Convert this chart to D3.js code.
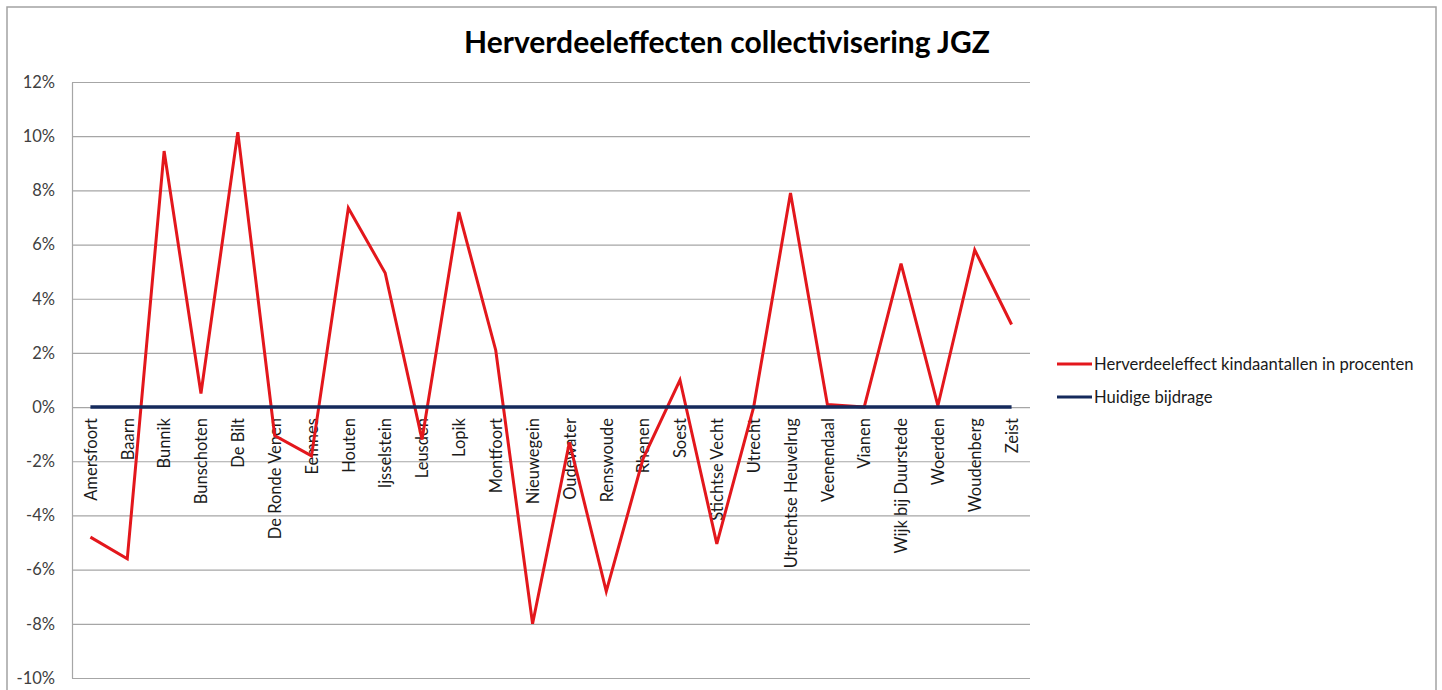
<!DOCTYPE html>
<html>
<head>
<meta charset="utf-8">
<script src="https://cdn.jsdelivr.net/npm/d3@7"></script>
<style>
  body { margin: 0; background: #fff; }
  svg { display: block; font-family: "Lato", "Open Sans", sans-serif; }
</style>
</head>
<body>
<div id="chart"></div>
<script>
let width = 1442
let height = 690

// -- data
let gemeenten = ["Amersfoort", "Baarn", "Bunnik", "Bunschoten", "De Bilt", "De Ronde Venen",
  "Eemnes", "Houten", "Ijsselstein", "Leusden", "Lopik", "Montfoort", "Nieuwegein",
  "Oudewater", "Renswoude", "Rhenen", "Soest", "Stichtse Vecht", "Utrecht",
  "Utrechtse Heuvelrug", "Veenendaal", "Vianen", "Wijk bij Duurstede", "Woerden",
  "Woudenberg", "Zeist"]
let herverdeelEffect = [-4.8, -5.6, 9.45, 0.5, 10.15, -1.05, -1.8, 7.35, 4.95, -1.2, 7.2, 2.1, -8.0,
  -1.3, -6.8, -1.9, 1.0, -5.05, 0.0, 7.9, 0.1, 0.0, 5.3, 0.05, 5.8, 3.05]
let huidigeBijdrage = [0, 0, 0, 0, 0, 0, 0, 0, 0, 0, 0, 0, 0, 0, 0, 0, 0, 0, 0, 0, 0, 0, 0, 0, 0, 0]
let yTicks = [12, 10, 8, 6, 4, 2, 0, -2, -4, -6, -8, -10]
let seriesNames = ["Herverdeeleffect kindaantallen in procenten", "Huidige bijdrage"]
let seriesColors = ["#e3171c", "#152a5c"]

let plot = { left: 72, right: 1030, top: 82, bottom: 678 }

let svg = d3.select("#chart").append("svg")
  .attr("width", width)
  .attr("height", height)

// outer chart frame
svg.append("rect")
  .attr("x", 7).attr("y", 7)
  .attr("width", 1429).attr("height", 720)
  .attr("fill", "#fff")
  .attr("stroke", "#a3a3a3")
  .attr("stroke-width", 1.5)

svg.append("text")
  .attr("x", 727).attr("y", 53)
  .attr("text-anchor", "middle")
  .style("font-size", "30px")
  .style("font-weight", "bold")
  .attr("fill", "#000")
  .text("Herverdeeleffecten collectivisering JGZ")

let xScale = d3.scalePoint()
  .domain(gemeenten)
  .range([plot.left, plot.right])
  .padding(0.5)

let yScale = d3.scaleLinear()
  .domain([-10, 12])
  .range([plot.bottom, plot.top])

// -- Y axis + gridlines
let yAxis = d3.axisLeft(yScale)
  .tickValues(yTicks)
  .tickSize(-(plot.right - plot.left))
  .tickSizeOuter(0)
  .tickPadding(17)
  .tickFormat(d => d + "%")

let yG = svg.append("g")
  .attr("transform", `translate(${plot.left}, 0)`)
  .call(yAxis)
yG.select(".domain").attr("stroke", "#a6a6a6").attr("stroke-width", 1.2)
yG.selectAll(".tick line").attr("stroke", "#a6a6a6").attr("stroke-width", 1.2)
yG.selectAll(".tick text")
  .style("font-size", "16.5px")
  .style("font-family", "Lato, sans-serif")
  .attr("fill", "#404040")

// -- X axis labels (rotated, hanging below the 0% line)
let xAxis = d3.axisBottom(xScale).tickSize(0)
let xG = svg.append("g")
  .attr("transform", `translate(0, ${yScale(0)})`)
  .call(xAxis)
xG.select(".domain").remove()
xG.selectAll(".tick text")
  .attr("transform", "rotate(-90)")
  .attr("x", -11)
  .attr("y", 0)
  .attr("dy", "0.35em")
  .style("text-anchor", "end")
  .style("font-size", "16.5px")
  .style("font-family", "Lato, sans-serif")
  .attr("fill", "#1a1a1a")

// -- lines
let line = d3.line()
  .x((d, i) => xScale(gemeenten[i]))
  .y(d => yScale(d))

svg.append("path")
  .datum(herverdeelEffect)
  .attr("fill", "none")
  .attr("stroke", seriesColors[0])
  .attr("stroke-width", 3)
  .attr("stroke-linejoin", "miter")
  .attr("d", line)

svg.append("path")
  .datum(huidigeBijdrage)
  .attr("fill", "none")
  .attr("stroke", seriesColors[1])
  .attr("stroke-width", 3.5)
  .attr("d", line)

// -- legend
let legend = svg.selectAll(".legend")
  .data(seriesNames)
  .enter()
  .append("g")
  .attr("class", "legend")
  .attr("transform", (d, i) => `translate(1057, ${364 + i * 33})`)

legend.append("line")
  .attr("x1", 0).attr("x2", 35)
  .attr("y1", 0).attr("y2", 0)
  .attr("stroke", (d, i) => seriesColors[i])
  .attr("stroke-width", 3)

legend.append("text")
  .attr("x", 37)
  .attr("y", 0)
  .attr("dy", "0.35em")
  .style("font-size", "16.6px")
  .attr("fill", "#1a1a1a")
  .text(d => d)
</script>
</body>
</html>
